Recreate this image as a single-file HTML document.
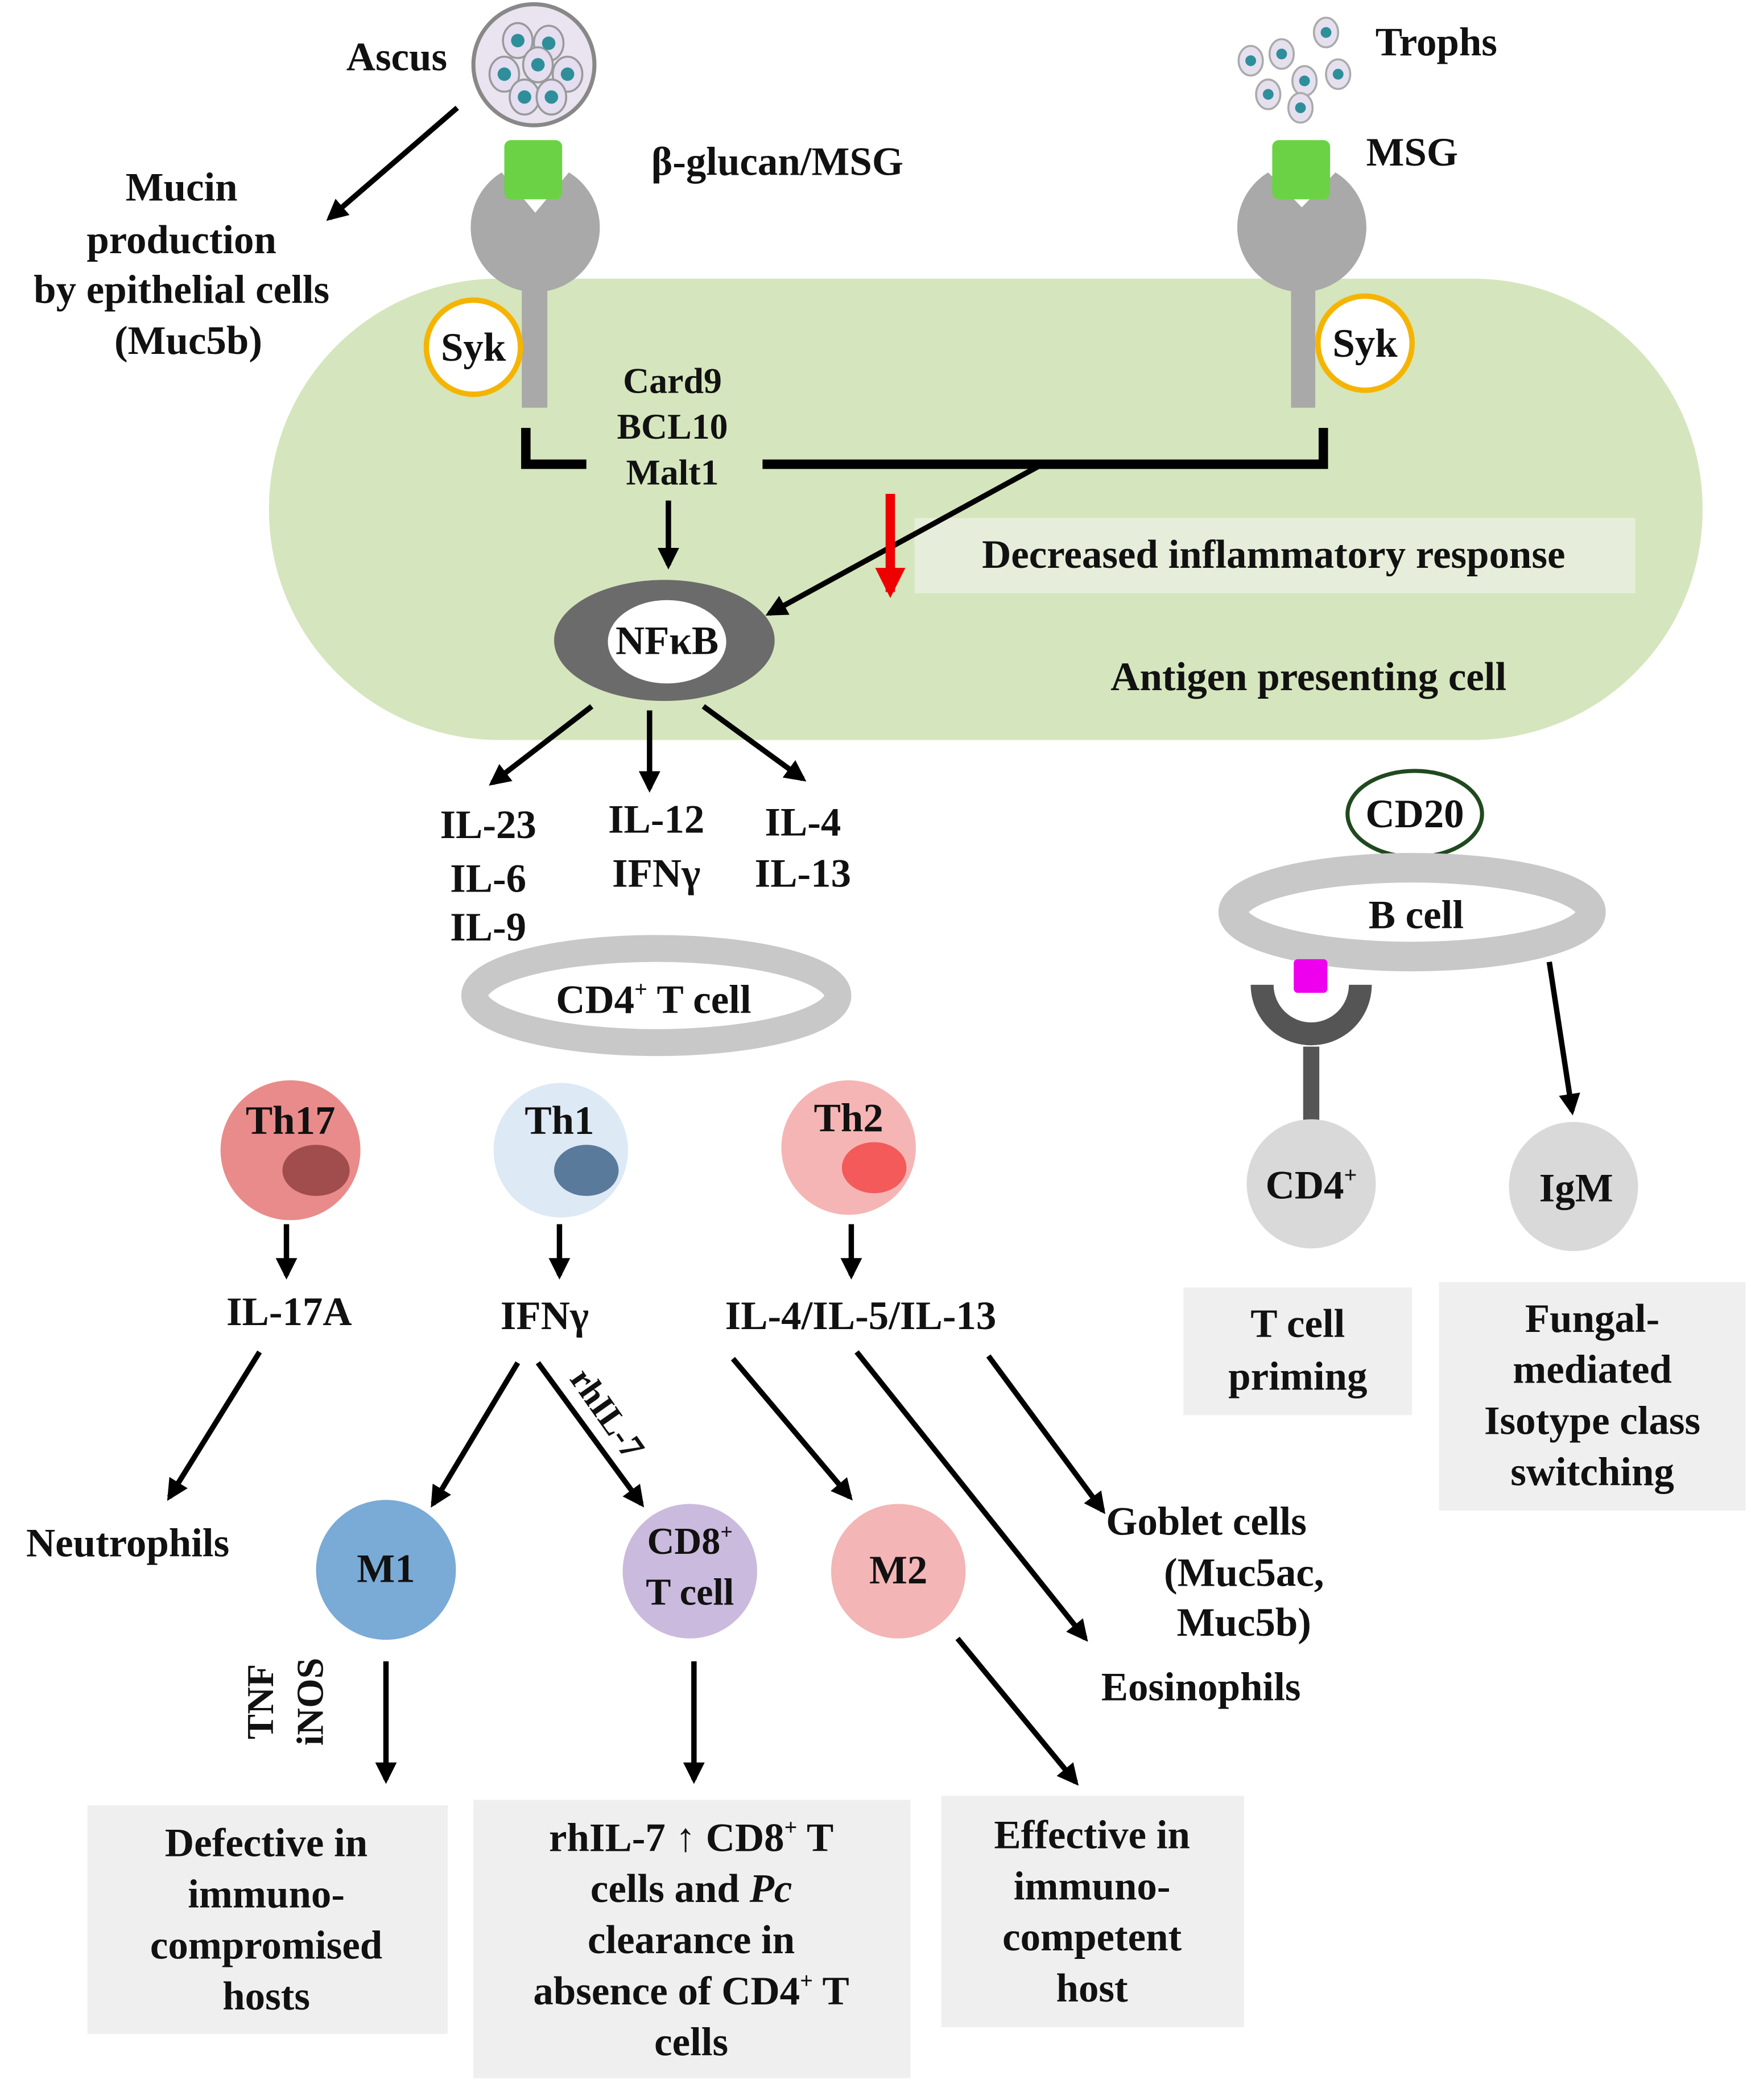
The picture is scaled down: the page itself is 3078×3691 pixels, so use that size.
<!DOCTYPE html>
<html><head><meta charset="utf-8"><style>
html,body{margin:0;padding:0;background:#fff}
svg{display:block}
svg text{font-family:"Liberation Serif","DejaVu Serif",serif;font-weight:bold;fill:#111}
</style></head><body>
<svg width="3078" height="3691" viewBox="0 0 1302 1561" xmlns="http://www.w3.org/2000/svg" font-family="Liberation Serif, DejaVu Serif, serif" font-weight="bold">
<defs>
<marker id="ah" viewBox="0 0 10 10" refX="8" refY="5" markerWidth="4" markerHeight="4" orient="auto"><path d="M0,0 L10,5 L0,10 z" fill="#000"/></marker>
<marker id="ahr" viewBox="0 0 10 10" refX="8" refY="5" markerWidth="3.2" markerHeight="3.2" orient="auto"><path d="M0,0 L10,5 L0,10 z" fill="#e00"/></marker>
</defs>
<rect x="200" y="207" width="1066" height="343" rx="171" fill="#d5e5bd"/>
<rect x="680" y="385" width="536" height="56" fill="#e6eedb"/>
<circle cx="397" cy="48" r="45" fill="#e9e4ef" stroke="#888" stroke-width="3"/>
<g fill="#e4def0" stroke="#999" stroke-width="1.5">
<ellipse cx="385" cy="30" rx="11" ry="13"/><ellipse cx="408" cy="32" rx="11" ry="13"/><ellipse cx="375" cy="55" rx="11" ry="13"/><ellipse cx="400" cy="48" rx="11" ry="13"/><ellipse cx="422" cy="55" rx="11" ry="13"/><ellipse cx="390" cy="72" rx="11" ry="13"/><ellipse cx="410" cy="72" rx="11" ry="13"/></g>
<g fill="#2e8f9a"><circle cx="385" cy="30" r="5"/><circle cx="408" cy="32" r="5"/><circle cx="375" cy="55" r="5"/><circle cx="400" cy="48" r="5"/><circle cx="422" cy="55" r="5"/><circle cx="390" cy="72" r="5"/><circle cx="410" cy="72" r="5"/></g>
<g fill="#e6e0ee" stroke="#aaa" stroke-width="1.5">
<ellipse cx="986" cy="24" rx="9" ry="11"/><ellipse cx="953" cy="40" rx="9" ry="11"/><ellipse cx="930" cy="45" rx="9" ry="11"/><ellipse cx="995" cy="55" rx="9" ry="11"/><ellipse cx="970" cy="60" rx="9" ry="11"/><ellipse cx="943" cy="70" rx="9" ry="11"/><ellipse cx="967" cy="80" rx="9" ry="11"/></g>
<g fill="#2e8f9a"><circle cx="986" cy="24" r="4"/><circle cx="953" cy="40" r="4"/><circle cx="930" cy="45" r="4"/><circle cx="995" cy="55" r="4"/><circle cx="970" cy="60" r="4"/><circle cx="943" cy="70" r="4"/><circle cx="967" cy="80" r="4"/></g>
<g fill="#a9a9a9">
<path d="M398,158 L373,128 A48,48 0 1 0 423,128 Z"/>
<rect x="388" y="200" width="19" height="103"/>
<path d="M968,154 L943,128 A48,48 0 1 0 993,128 Z"/>
<rect x="960" y="196" width="18" height="107"/>
</g>
<rect x="375" y="104" width="43" height="44" rx="5" fill="#6ad244"/>
<rect x="946" y="104" width="43" height="44" rx="5" fill="#6ad244"/>
<circle cx="352" cy="258" r="35" fill="#fff" stroke="#f5b400" stroke-width="4"/>
<circle cx="1015" cy="255" r="35" fill="#fff" stroke="#f5b400" stroke-width="4"/>
<path d="M391,318 V345 H436 M567,345 H984 V318" fill="none" stroke="#000" stroke-width="7"/>
<line x1="497" y1="372" x2="497" y2="420" stroke="#000" stroke-width="4" marker-end="url(#ah)"/>
<line x1="775" y1="345" x2="572" y2="456" stroke="#000" stroke-width="4" marker-end="url(#ah)"/>
<line x1="662" y1="367" x2="662" y2="440" stroke="#e00" stroke-width="7" marker-end="url(#ahr)"/>
<ellipse cx="494" cy="476" rx="82" ry="45" fill="#6b6b6b"/>
<ellipse cx="496" cy="477" rx="44" ry="31" fill="#fff"/>
<g stroke="#000" stroke-width="4">
<line x1="440" y1="525" x2="366" y2="582" marker-end="url(#ah)"/>
<line x1="483" y1="528" x2="483" y2="586" marker-end="url(#ah)"/>
<line x1="523" y1="525" x2="597" y2="579" marker-end="url(#ah)"/>
</g>
<ellipse cx="488" cy="740" rx="135" ry="35" fill="none" stroke="#c8c8c8" stroke-width="20"/>
<circle cx="216" cy="855" r="52" fill="#e98b8b"/><ellipse cx="235" cy="870" rx="25" ry="19" fill="#a14d4d"/>
<circle cx="417" cy="855" r="50" fill="#dde9f5"/><ellipse cx="436" cy="870" rx="24" ry="19" fill="#5a7a9c"/>
<circle cx="631" cy="853" r="50" fill="#f5b5b5"/><ellipse cx="650" cy="868" rx="24" ry="19" fill="#f45a5a"/>
<g stroke="#000" stroke-width="4">
<line x1="213" y1="910" x2="213" y2="948" marker-end="url(#ah)"/>
<line x1="416" y1="910" x2="416" y2="948" marker-end="url(#ah)"/>
<line x1="633" y1="910" x2="633" y2="948" marker-end="url(#ah)"/>
<line x1="193" y1="1005" x2="126" y2="1113" marker-end="url(#ah)"/>
<line x1="385" y1="1013" x2="322" y2="1118" marker-end="url(#ah)"/>
<line x1="400" y1="1013" x2="477" y2="1118" marker-end="url(#ah)"/>
<line x1="545" y1="1010" x2="632" y2="1113" marker-end="url(#ah)"/>
<line x1="637" y1="1005" x2="807" y2="1218" marker-end="url(#ah)"/>
<line x1="735" y1="1008" x2="820" y2="1123" marker-end="url(#ah)"/>
<line x1="287" y1="1235" x2="287" y2="1323" marker-end="url(#ah)"/>
<line x1="516" y1="1235" x2="516" y2="1323" marker-end="url(#ah)"/>
<line x1="712" y1="1218" x2="800" y2="1325" marker-end="url(#ah)"/>
<line x1="340" y1="80" x2="245" y2="162" marker-end="url(#ah)"/>
<line x1="1152" y1="715" x2="1169" y2="826" marker-end="url(#ah)"/>
</g>
<circle cx="287" cy="1167" r="52" fill="#7aaad6"/>
<circle cx="513" cy="1168" r="50" fill="#cabadd"/>
<circle cx="668" cy="1168" r="50" fill="#f3b5b5"/>
<g fill="#efefef">
<rect x="65" y="1342" width="268" height="170"/>
<rect x="352" y="1338" width="325" height="207"/>
<rect x="700" y="1335" width="225" height="172"/>
<rect x="880" y="957" width="170" height="95"/>
<rect x="1070" y="953" width="228" height="170"/>
</g>
<ellipse cx="1052" cy="605" rx="50" ry="32" fill="#fff" stroke="#1f4a1f" stroke-width="3"/>
<ellipse cx="1050" cy="678" rx="133" ry="33" fill="none" stroke="#c8c8c8" stroke-width="22"/>
<path d="M930,732 A45,45 0 0 0 1020,732 L1003,732 A28,28 0 0 1 947,732 Z" fill="#555"/>
<rect x="962" y="713" width="25" height="25" rx="3" fill="#ee00ee"/>
<rect x="969" y="778" width="12" height="56" fill="#555"/>
<circle cx="975" cy="880" r="48" fill="#d9d9d9"/>
<circle cx="1170" cy="882" r="48" fill="#d9d9d9"/>
<g font-size="30">
<text x="295" y="52" text-anchor="middle">Ascus</text>
<text x="1068" y="41" text-anchor="middle">Trophs</text>
<text x="578" y="130" text-anchor="middle">β-glucan/MSG</text>
<text x="1050" y="123" text-anchor="middle">MSG</text>
<g text-anchor="middle"><text x="135" y="149">Mucin</text><text x="135" y="188">production</text><text x="135" y="225">by epithelial cells</text><text x="140" y="263">(Muc5b)</text></g>
<text x="352" y="268" text-anchor="middle">Syk</text>
<text x="1015" y="265" text-anchor="middle">Syk</text>
<g text-anchor="middle" font-size="27"><text x="500" y="292">Card9</text><text x="500" y="326">BCL10</text><text x="500" y="360">Malt1</text></g>
<text x="947" y="422" text-anchor="middle">Decreased inflammatory response</text>
<text x="496" y="486" text-anchor="middle">NFκB</text>
<text x="973" y="513" text-anchor="middle">Antigen presenting cell</text>
<g text-anchor="middle"><text x="363" y="623">IL-23</text><text x="363" y="663">IL-6</text><text x="363" y="699">IL-9</text>
<text x="488" y="619">IL-12</text><text x="488" y="659">IFNγ</text>
<text x="597" y="621">IL-4</text><text x="597" y="659">IL-13</text>
<text x="486" y="753">CD4<tspan font-size="17" dy="-12">+</tspan><tspan dy="12"> T cell</tspan></text>
<text x="216" y="843">Th17</text><text x="416" y="843">Th1</text><text x="631" y="841">Th2</text>
<text x="215" y="985">IL-17A</text><text x="405" y="988">IFNγ</text><text x="640" y="988">IL-4/IL-5/IL-13</text>
<text x="95" y="1157">Neutrophils</text>
<text x="287" y="1176">M1</text><text x="668" y="1177">M2</text>
<text x="513" y="1155" font-size="28">CD8<tspan font-size="16" dy="-11">+</tspan></text><text x="513" y="1193" font-size="28">T cell</text>
<text x="897" y="1141">Goblet cells</text><text x="925" y="1179">(Muc5ac,</text><text x="925" y="1216">Muc5b)</text>
<text x="893" y="1264">Eosinophils</text>
<text x="198" y="1380">Defective in</text><text x="198" y="1418">immuno-</text><text x="198" y="1456">compromised</text><text x="198" y="1494">hosts</text>
<text x="514" y="1376">rhIL-7 ↑ CD8<tspan font-size="17" dy="-12">+</tspan><tspan dy="12"> T</tspan></text><text x="514" y="1414">cells  and <tspan font-style="italic">Pc</tspan></text><text x="514" y="1452">clearance in</text><text x="514" y="1490">absence of CD4<tspan font-size="17" dy="-12">+</tspan><tspan dy="12"> T</tspan></text><text x="514" y="1528">cells</text>
<text x="812" y="1374">Effective in</text><text x="812" y="1412">immuno-</text><text x="812" y="1450">competent</text><text x="812" y="1488">host</text>
<text x="1052" y="615">CD20</text><text x="1053" y="690">B cell</text>
<text x="975" y="891">CD4<tspan font-size="17" dy="-12">+</tspan></text><text x="1172" y="893">IgM</text>
<text x="965" y="994">T cell</text><text x="965" y="1033">priming</text>
<text x="1184" y="990">Fungal-</text><text x="1184" y="1028">mediated</text><text x="1184" y="1066">Isotype class</text><text x="1184" y="1104">switching</text>
</g>
<text font-size="26" transform="translate(423,1025) rotate(55)">rhIL-7</text>
<text font-size="28" text-anchor="middle" transform="translate(203,1265) rotate(-90)">TNF</text>
<text font-size="28" text-anchor="middle" transform="translate(240,1265) rotate(-90)">iNOS</text>
</svg>
</body></html>
